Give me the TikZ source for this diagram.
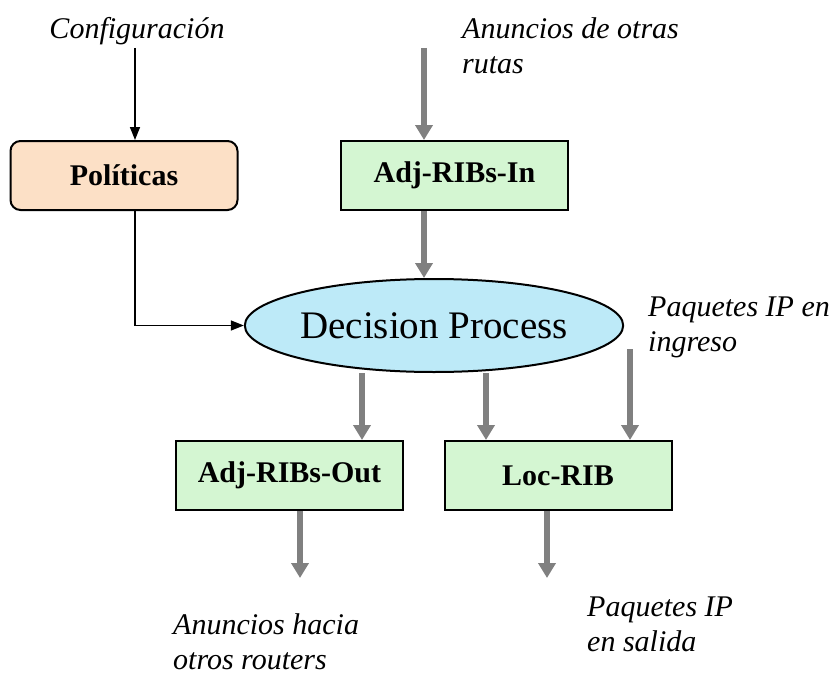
\documentclass[tikz,border=0pt]{standalone}
\usepackage{fontspec}
\setmainfont{Liberation Serif}
\usepackage{tikz}
\usetikzlibrary{arrows.meta,shapes.geometric}

\definecolor{polfill}{HTML}{FCE0C6}
\definecolor{ribfill}{HTML}{D4F6D2}
\definecolor{dpfill}{HTML}{BDEAF8}
\definecolor{flowgray}{HTML}{808080}

\tikzset{
  ribbox/.style={draw,line width=2pt,fill=ribfill,minimum width=227pt,minimum height=69pt,
    font=\fontsize{30}{35}\selectfont\bfseries},
  polbox/.style={ribbox,fill=polfill,rounded corners=10pt},
  label/.style={inner sep=0pt,align=left,anchor=north west,font=\fontsize{30}{35}\selectfont\itshape},
  flow/.style={-{Triangle[width=17pt,length=15pt]},line width=6pt,draw=flowgray},
  ctrl/.style={-{Triangle[width=10pt,length=13pt]},line width=1.5pt}
}

\begin{document}
\begin{tikzpicture}[x=1pt,y=-1pt]
      \useasboundingbox (0,0) rectangle (835,677);

      \node[polbox] (POL) at (124,175.5) { Políticas } ;
      \node[ribbox] (IN)  at (454.5,175.5) { Adj-RIBs-In } ;
      \node[draw,ellipse,line width=2pt,fill=dpfill,minimum width=352pt,minimum height=93pt,
            inner sep=0pt,font=\fontsize{39}{44}\selectfont] (DP) at (434,325.5) { Decision Process } ;
      \node[ribbox] (OUT) at (289.5,475.5) { Adj-RIBs-Out } ;
      \node[ribbox] (LOC) at (558,475.5) { Loc-RIB } ;

      \node[inner sep=0pt,anchor=base,font=\fontsize{30}{35}\selectfont\itshape] (CFG) at (137,39) { Configuración } ;
      \node[label] (ANN) at (462,17) { Anuncios de otras\\rutas } ;
      \node[label] (PIN) at (648,297) { Paquetes IP en\\ingreso } ;
      \node[label] (AOUT) at (173,613) { Anuncios hacia\\otros routers } ;
      \node[label] (POUT) at (587,597) { Paquetes IP\\en salida } ;

      \coordinate (c) at (135,48) ;
      \coordinate (a) at (424,48) ;
      \coordinate (p) at (630,349) ;
      \coordinate (o) at (300,578) ;
      \coordinate (s) at (547,578) ;

      \draw[ctrl] (c) -- (c |- POL.north) ;
      \draw[ctrl] (c |- POL.south) |- (DP.west) ;
      \draw[flow] (a) -- (a |- IN.north) ;
      \draw[flow] (a |- IN.south) -- (a |- DP.north) ;
      \draw[flow] ([xshift=-72pt]DP.south) -- ([xshift=72.5pt]OUT.north) ;
      \draw[flow] ([xshift=52pt]DP.south) -- ([xshift=-72pt]LOC.north) ;
      \draw[flow] (p) -- (p |- LOC.north) ;
      \draw[flow] (o |- OUT.south) -- (o) ;
      \draw[flow] (s |- LOC.south) -- (s) ;
    \end{tikzpicture}
\end{document}
